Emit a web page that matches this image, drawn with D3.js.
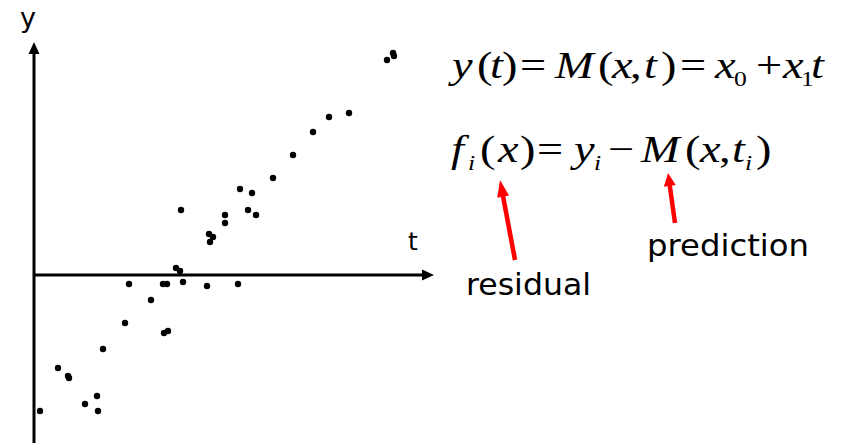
<!DOCTYPE html>
<html>
<head>
<meta charset="utf-8">
<script src="https://cdn.jsdelivr.net/npm/d3@7"></script>
<style>
  html, body { margin: 0; padding: 0; background: #fff; }
  svg { display: block; }
</style>
</head>
<body>
<svg id="chart" width="848" height="443"></svg>
<script>
// Observations: time t and measured value y
const tValues = [0.6, 2.4, 3.4, 3.5, 5.1, 6.3, 6.4, 6.9, 9.1, 9.5, 11.7, 13.0, 13.4, 12.9, 13.3,
  14.2, 14.6, 14.9, 14.7, 17.3, 17.5, 17.9, 17.6, 19.1, 19.1, 20.4, 20.6, 21.4, 21.8, 22.2,
  23.9, 25.9, 27.9, 29.5, 31.5, 35.3, 35.9, 36.0];
const yValues = [-13.6, -9.3, -10.1, -10.3, -12.9, -12.1, -13.6, -7.4, -4.8, -0.9, -2.5, -5.8, -5.6, -0.9, -0.9,
  0.7, 0.4, -0.7, 6.5, -1.1, 4.1, 3.8, 3.3, 6.0, 5.2, -0.9, 8.6, 6.5, 8.2, 6.0,
  9.7, 12.0, 14.3, 15.8, 16.2, 21.5, 22.2, 21.9];

// Axis extents (data units) and axis names
const tDomain = [0, 40];
const yDomain = [-16.8, 23.3];
const axisNames = { t: "t", y: "y" };

// Model equations: glyph runs with their horizontal placement
const eqModel = [
  { s: "y", x: 452, it: true }, { s: "(", x: 477 }, { s: "t", x: 490, it: true }, { s: ")", x: 502 },
  { s: "=", x: 520 }, { s: "M", x: 555, it: true }, { s: "(", x: 598 }, { s: "x", x: 612, it: true },
  { s: ",", x: 630 }, { s: "t", x: 644, it: true }, { s: ")", x: 661 }, { s: "=", x: 680 },
  { s: "x", x: 715, it: true }, { s: "0", x: 734, sub: true }, { s: "+", x: 756 },
  { s: "x", x: 783, it: true }, { s: "1", x: 801, sub: true }, { s: "t", x: 811, it: true }
];
const eqResidual = [
  { s: "f", x: 451, it: true }, { s: "i", x: 468, sub: true, it: true }, { s: "(", x: 480 },
  { s: "x", x: 498, it: true }, { s: ")", x: 520 }, { s: "=", x: 537 },
  { s: "y", x: 574, it: true }, { s: "i", x: 594, sub: true, it: true }, { s: "\u2212", x: 608 },
  { s: "M", x: 641, it: true }, { s: "(", x: 685 }, { s: "x", x: 700, it: true }, { s: ",", x: 719 },
  { s: "t", x: 732, it: true }, { s: "i", x: 745, sub: true, it: true }, { s: ")", x: 756 }
];
const labels = ["residual", "prediction"];

const svg = d3.select("#chart");

const x = d3.scaleLinear().domain(tDomain).range([34, 434]);
const y = d3.scaleLinear().domain(yDomain).range([443, 42]);

// Axes with arrow heads
const axisG = svg.append("g");
axisG.append("line")
  .attr("x1", x(tDomain[0])).attr("x2", x(tDomain[1]) - 8)
  .attr("y1", y(0)).attr("y2", y(0))
  .attr("stroke", "#000").attr("stroke-width", 3);
axisG.append("path")
  .attr("d", `M${x(tDomain[1])},${y(0)} L${x(tDomain[1]) - 12},${y(0) - 5.5} L${x(tDomain[1]) - 12},${y(0) + 5.5} Z`)
  .attr("fill", "#000");
axisG.append("line")
  .attr("x1", x(0)).attr("x2", x(0))
  .attr("y1", y(yDomain[0])).attr("y2", y(yDomain[1]) + 8)
  .attr("stroke", "#000").attr("stroke-width", 3);
axisG.append("path")
  .attr("d", `M${x(0)},${y(yDomain[1])} L${x(0) - 5.5},${y(yDomain[1]) + 12} L${x(0) + 5.5},${y(yDomain[1]) + 12} Z`)
  .attr("fill", "#000");

const sans = "'DejaVu Sans', Verdana, sans-serif";
svg.append("text").text(axisNames.y)
  .attr("x", 20).attr("y", 27)
  .attr("font-family", sans).attr("font-size", 27).attr("fill", "#000");
svg.append("text").text(axisNames.t)
  .attr("x", 408).attr("y", 250)
  .attr("font-family", sans).attr("font-size", 25).attr("fill", "#000");

// Data points
svg.append("g").selectAll("circle")
  .data(tValues.map((t, i) => ({ t, v: yValues[i] })))
  .join("circle")
  .attr("cx", d => x(d.t))
  .attr("cy", d => y(d.v))
  .attr("r", 3.2)
  .attr("fill", "#000");

// Equations: one text per line, serif math, slightly widened
const sx = 1.22;
function drawEquation(pieces, baseline) {
  const text = svg.append("text")
    .attr("transform", `translate(0,${baseline}) scale(${sx},1)`)
    .attr("font-family", "'Liberation Serif', 'Times New Roman', serif")
    .attr("fill", "#000");
  pieces.forEach(p => {
    text.append("tspan")
      .attr("x", p.x / sx)
      .attr("y", p.sub ? 8 : 0)
      .attr("font-style", p.it ? "italic" : "normal")
      .attr("font-size", p.sub ? 21 : 38)
      .text(p.s);
  });
}
drawEquation(eqModel, 78);
drawEquation(eqResidual, 162);

// Annotation labels
svg.append("text").text(labels[0])
  .attr("x", 466).attr("y", 295)
  .attr("font-family", sans).attr("font-size", 30)
  .attr("textLength", 125).attr("lengthAdjust", "spacingAndGlyphs")
  .attr("fill", "#000");
svg.append("text").text(labels[1])
  .attr("x", 647).attr("y", 256)
  .attr("font-family", sans).attr("font-size", 30)
  .attr("textLength", 162).attr("lengthAdjust", "spacingAndGlyphs")
  .attr("fill", "#000");

// Red pointer arrows
function redArrow(x1, y1, x2, y2, headLen, headW) {
  const ang = Math.atan2(y2 - y1, x2 - x1);
  const bx = x2 - headLen * Math.cos(ang), by = y2 - headLen * Math.sin(ang);
  const px = -Math.sin(ang) * headW / 2, py = Math.cos(ang) * headW / 2;
  svg.append("line")
    .attr("x1", x1).attr("y1", y1).attr("x2", bx + 2 * Math.cos(ang)).attr("y2", by + 2 * Math.sin(ang))
    .attr("stroke", "#ff0000").attr("stroke-width", 4.5);
  svg.append("path")
    .attr("d", `M${x2},${y2} L${bx + px},${by + py} L${bx - px},${by - py} Z`)
    .attr("fill", "#ff0000");
}
redArrow(515, 260, 500, 180, 17, 12);
redArrow(675, 223, 668, 173, 13, 12);
</script>
</body>
</html>
